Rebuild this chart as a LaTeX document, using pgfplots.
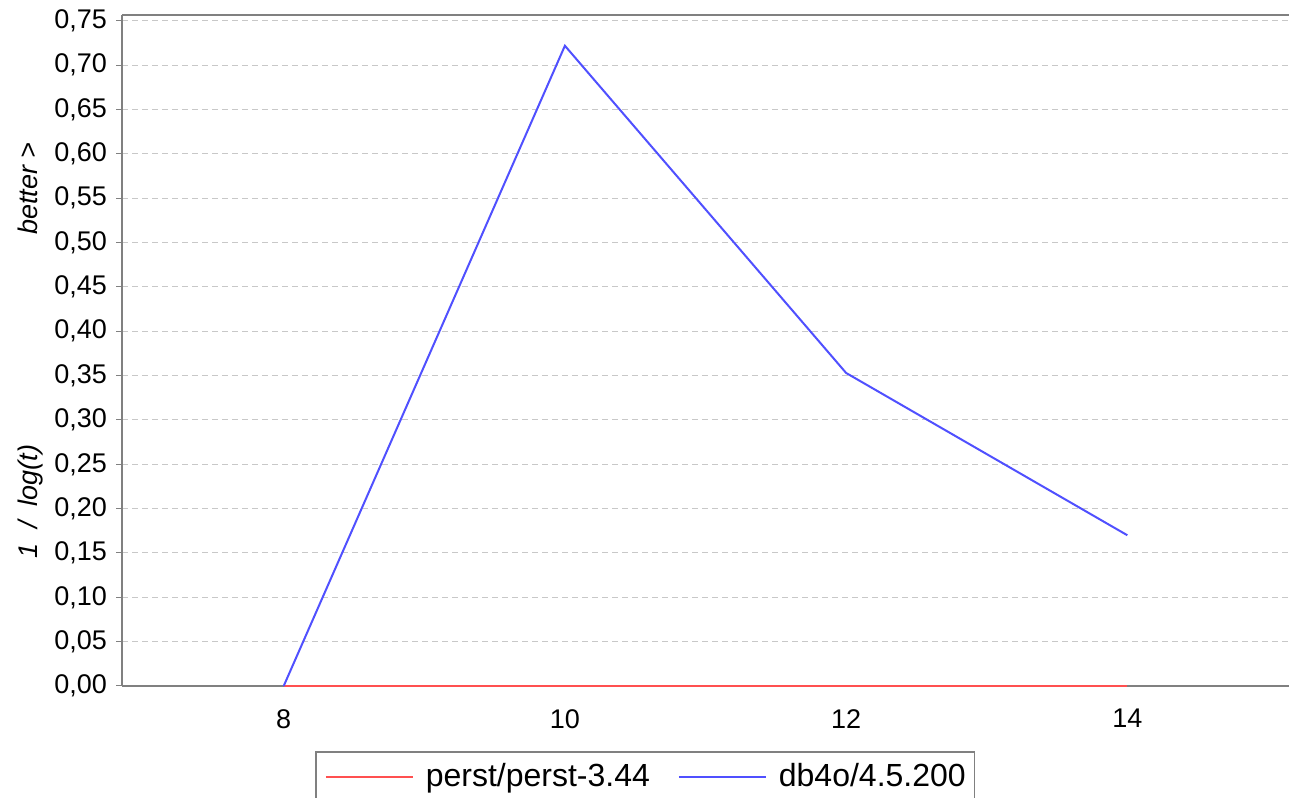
\documentclass[border=0pt]{standalone}
\usepackage{fontspec}
\setmainfont{Liberation Sans}
\usepackage{pgfplots}
\pgfplotsset{compat=1.18}
\definecolor{axgray}{RGB}{128,128,128}
\definecolor{gridgray}{RGB}{200,200,200}
\definecolor{lineblue}{RGB}{80,80,255}
\definecolor{linered}{RGB}{255,80,80}
\begin{document}
\fontsize{27bp}{32bp}\selectfont
\begin{tikzpicture}[x=1bp,y=1bp]
\useasboundingbox (0,0) rectangle (1289,798);
\begin{axis}[
  at={(122bp,112bp)}, anchor=south west,
  scale only axis, width=1167bp, height=671bp,
  xmin=6.85, xmax=15.15, ymin=0, ymax=0.7567,
  xtick={8,10,12,14},
  ytick={0,0.05,...,0.76},
  axis line style={axgray, line width=1.5bp},
  axis x line*=bottom, axis y line*=left,
  x tick style={draw=none},
  y tick style={axgray, line width=1bp},
  tick align=outside, major tick length=6bp,
  ymajorgrids,
  grid style={gridgray, dashed, line width=1bp, dash pattern=on 6bp off 4bp},
  tick label style={font=\fontsize{27bp}{32bp}\selectfont},
  /pgf/number format/assume math mode=true,
  yticklabel style={/pgf/number format/.cd, fixed, fixed zerofill, precision=2, use comma},
  xticklabel style={/pgf/number format/.cd, fixed, /tikz/yshift=-8bp},
  ylabel={\itshape 1\ \ /\ \ log(t)\hspace{210bp}better >},
  ylabel style={font=\fontsize{27bp}{32bp}\selectfont},
  every axis y label/.style={at={(axis description cs:-0.0788,0.5)}, rotate=90, anchor=center},
  legend style={at={(rel axis cs:0.1654,-0.0969)}, anchor=north west, legend columns=2,
    draw=axgray, line width=1.5bp, font=\fontsize{32bp}{38bp}\selectfont,
    inner xsep=9bp, inner ysep=6bp,
    nodes={inner xsep=0pt, inner ysep=6bp},
    /tikz/every odd column/.append style={column sep=12bp},
    /tikz/every even column/.append style={column sep=28bp}},
  legend image code/.code={\draw[#1, line width=2bp] (0bp,0bp) -- (87bp,0bp);},
  clip=false,
]
\addplot[linered, line width=2bp] coordinates {(8,0) (10,0) (12,0) (14,0)};
\addlegendentry{perst/perst-3.44}
\addplot[lineblue, line width=2bp] coordinates {(8,0) (10,0.722) (12,0.353) (14,0.170)};
\addlegendentry{db4o/4.5.200}
\draw[axgray, line width=1.5bp] (rel axis cs:0,1) -- (rel axis cs:1,1);
\end{axis}
\end{tikzpicture}
\end{document}
